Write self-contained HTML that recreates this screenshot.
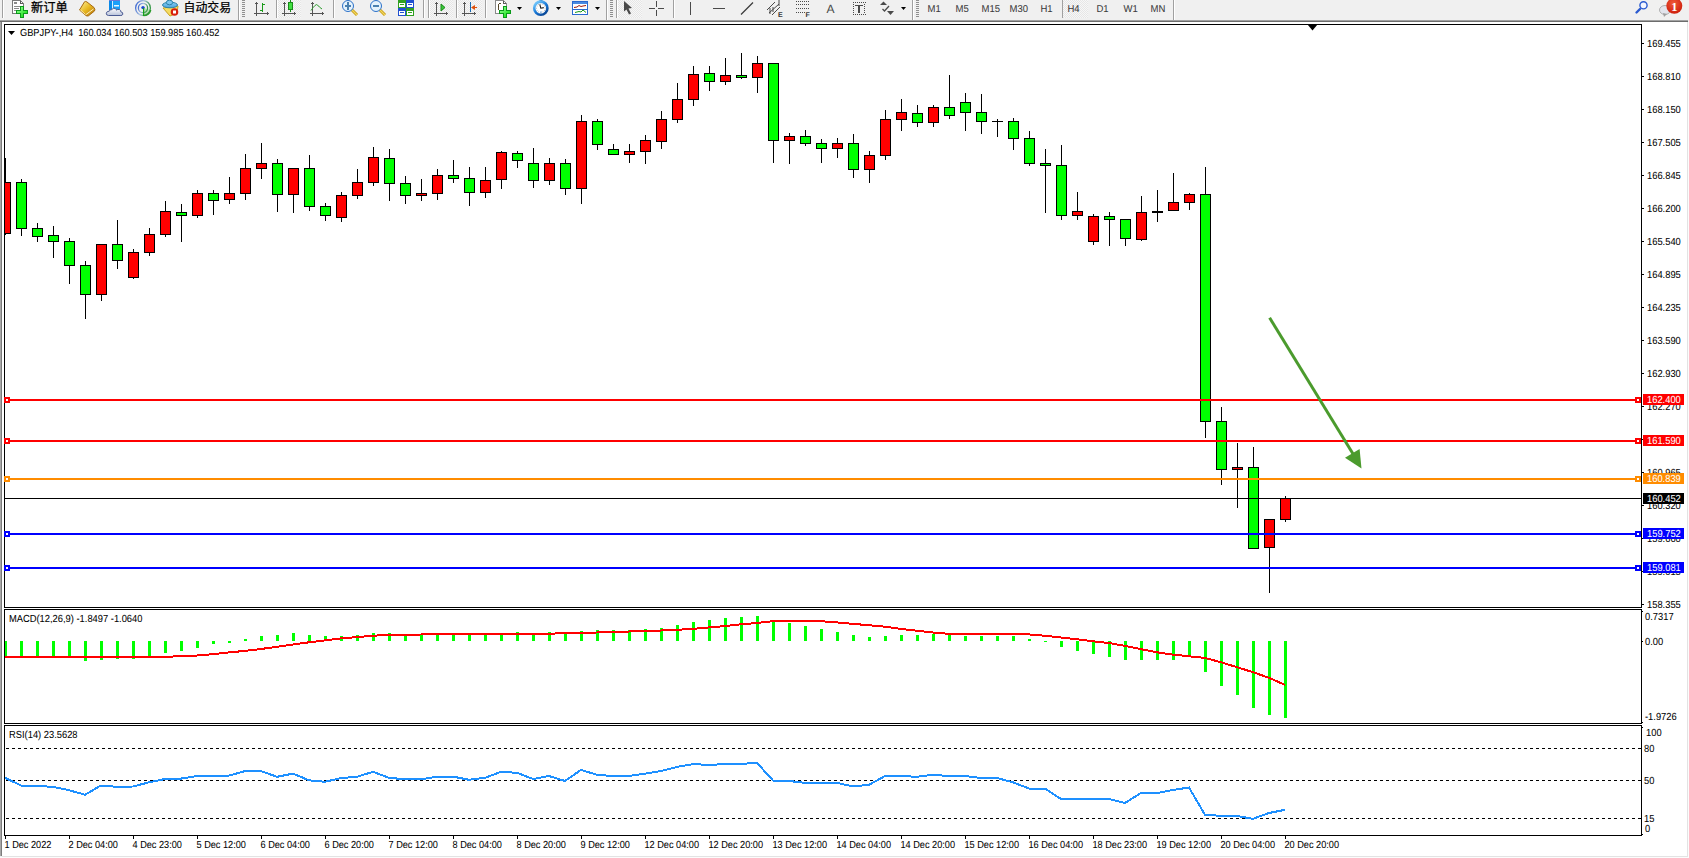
<!DOCTYPE html>
<html><head><meta charset="utf-8"><title>GBPJPY-,H4</title>
<style>
html,body{margin:0;padding:0;background:#f0f0f0;}
body{width:1689px;height:858px;overflow:hidden;}
svg{display:block;}
</style></head><body>
<svg width="1689" height="858" viewBox="0 0 1689 858">
<rect x="0" y="0" width="1689" height="858" fill="#f0f0f0"/>
<rect x="2" y="22" width="1685" height="834" fill="#ffffff"/>
<rect x="0" y="20" width="1" height="836" fill="#a8a8a8"/>
<rect x="1" y="20" width="1" height="836" fill="#7c7c7c"/>
<rect x="1687" y="22" width="1" height="835" fill="#e3e3e3"/>
<rect x="2" y="856" width="1686" height="1" fill="#e3e3e3"/>
<rect x="0" y="20" width="1688" height="1" fill="#a2a2a2"/>
<rect x="0" y="21" width="1688" height="1" fill="#6c6c6c"/>
<rect x="1688" y="22" width="1" height="836" fill="#fcfcfc"/>
<rect x="0" y="857" width="1688" height="1" fill="#fcfcfc"/>
<rect x="4" y="24" width="1638" height="1" fill="#000"/>
<rect x="4" y="607" width="1638" height="1" fill="#000"/>
<rect x="4" y="24" width="1" height="584" fill="#000"/>
<rect x="1641" y="24" width="1" height="584" fill="#000"/>
<rect x="4" y="609" width="1638" height="1" fill="#000"/>
<rect x="4" y="723" width="1638" height="1" fill="#000"/>
<rect x="4" y="609" width="1" height="115" fill="#000"/>
<rect x="1641" y="609" width="1" height="115" fill="#000"/>
<rect x="4" y="725" width="1638" height="1" fill="#000"/>
<rect x="4" y="835" width="1638" height="1" fill="#000"/>
<rect x="4" y="725" width="1" height="111" fill="#000"/>
<rect x="1641" y="725" width="1" height="111" fill="#000"/>
<defs><clipPath id="cm"><rect x="5" y="25" width="1636" height="582"/></clipPath><clipPath id="cd"><rect x="5" y="610" width="1636" height="113"/></clipPath><clipPath id="cr"><rect x="5" y="726" width="1636" height="109"/></clipPath></defs>
<g clip-path="url(#cm)" shape-rendering="crispEdges">
<rect x="5" y="158" width="1" height="77" fill="#000"/>
<rect x="0" y="182" width="11" height="52" fill="#000"/>
<rect x="1" y="183" width="9" height="50" fill="#ff0000"/>
<rect x="21" y="179" width="1" height="57" fill="#000"/>
<rect x="16" y="182" width="11" height="47" fill="#000"/>
<rect x="17" y="183" width="9" height="45" fill="#00ff00"/>
<rect x="37" y="223" width="1" height="19" fill="#000"/>
<rect x="32" y="228" width="11" height="9" fill="#000"/>
<rect x="33" y="229" width="9" height="7" fill="#00ff00"/>
<rect x="53" y="226" width="1" height="32" fill="#000"/>
<rect x="48" y="235" width="11" height="7" fill="#000"/>
<rect x="49" y="236" width="9" height="5" fill="#00ff00"/>
<rect x="69" y="238" width="1" height="46" fill="#000"/>
<rect x="64" y="241" width="11" height="25" fill="#000"/>
<rect x="65" y="242" width="9" height="23" fill="#00ff00"/>
<rect x="85" y="261" width="1" height="58" fill="#000"/>
<rect x="80" y="265" width="11" height="30" fill="#000"/>
<rect x="81" y="266" width="9" height="28" fill="#00ff00"/>
<rect x="101" y="244" width="1" height="57" fill="#000"/>
<rect x="96" y="244" width="11" height="51" fill="#000"/>
<rect x="97" y="245" width="9" height="49" fill="#ff0000"/>
<rect x="117" y="220" width="1" height="49" fill="#000"/>
<rect x="112" y="244" width="11" height="17" fill="#000"/>
<rect x="113" y="245" width="9" height="15" fill="#00ff00"/>
<rect x="133" y="249" width="1" height="30" fill="#000"/>
<rect x="128" y="252" width="11" height="26" fill="#000"/>
<rect x="129" y="253" width="9" height="24" fill="#ff0000"/>
<rect x="149" y="228" width="1" height="28" fill="#000"/>
<rect x="144" y="234" width="11" height="19" fill="#000"/>
<rect x="145" y="235" width="9" height="17" fill="#ff0000"/>
<rect x="165" y="201" width="1" height="36" fill="#000"/>
<rect x="160" y="211" width="11" height="24" fill="#000"/>
<rect x="161" y="212" width="9" height="22" fill="#ff0000"/>
<rect x="181" y="204" width="1" height="38" fill="#000"/>
<rect x="176" y="212" width="11" height="4" fill="#000"/>
<rect x="177" y="213" width="9" height="2" fill="#00ff00"/>
<rect x="197" y="190" width="1" height="28" fill="#000"/>
<rect x="192" y="193" width="11" height="23" fill="#000"/>
<rect x="193" y="194" width="9" height="21" fill="#ff0000"/>
<rect x="213" y="190" width="1" height="25" fill="#000"/>
<rect x="208" y="193" width="11" height="8" fill="#000"/>
<rect x="209" y="194" width="9" height="6" fill="#00ff00"/>
<rect x="229" y="177" width="1" height="27" fill="#000"/>
<rect x="224" y="193" width="11" height="7" fill="#000"/>
<rect x="225" y="194" width="9" height="5" fill="#ff0000"/>
<rect x="245" y="154" width="1" height="46" fill="#000"/>
<rect x="240" y="168" width="11" height="26" fill="#000"/>
<rect x="241" y="169" width="9" height="24" fill="#ff0000"/>
<rect x="261" y="143" width="1" height="36" fill="#000"/>
<rect x="256" y="163" width="11" height="6" fill="#000"/>
<rect x="257" y="164" width="9" height="4" fill="#ff0000"/>
<rect x="277" y="159" width="1" height="53" fill="#000"/>
<rect x="272" y="163" width="11" height="32" fill="#000"/>
<rect x="273" y="164" width="9" height="30" fill="#00ff00"/>
<rect x="293" y="168" width="1" height="45" fill="#000"/>
<rect x="288" y="168" width="11" height="27" fill="#000"/>
<rect x="289" y="169" width="9" height="25" fill="#ff0000"/>
<rect x="309" y="155" width="1" height="56" fill="#000"/>
<rect x="304" y="168" width="11" height="39" fill="#000"/>
<rect x="305" y="169" width="9" height="37" fill="#00ff00"/>
<rect x="325" y="203" width="1" height="18" fill="#000"/>
<rect x="320" y="206" width="11" height="10" fill="#000"/>
<rect x="321" y="207" width="9" height="8" fill="#00ff00"/>
<rect x="341" y="192" width="1" height="30" fill="#000"/>
<rect x="336" y="195" width="11" height="23" fill="#000"/>
<rect x="337" y="196" width="9" height="21" fill="#ff0000"/>
<rect x="357" y="169" width="1" height="30" fill="#000"/>
<rect x="352" y="182" width="11" height="14" fill="#000"/>
<rect x="353" y="183" width="9" height="12" fill="#ff0000"/>
<rect x="373" y="147" width="1" height="39" fill="#000"/>
<rect x="368" y="157" width="11" height="26" fill="#000"/>
<rect x="369" y="158" width="9" height="24" fill="#ff0000"/>
<rect x="389" y="149" width="1" height="52" fill="#000"/>
<rect x="384" y="158" width="11" height="26" fill="#000"/>
<rect x="385" y="159" width="9" height="24" fill="#00ff00"/>
<rect x="405" y="176" width="1" height="28" fill="#000"/>
<rect x="400" y="183" width="11" height="13" fill="#000"/>
<rect x="401" y="184" width="9" height="11" fill="#00ff00"/>
<rect x="421" y="179" width="1" height="22" fill="#000"/>
<rect x="416" y="193" width="11" height="3" fill="#000"/>
<rect x="417" y="194" width="9" height="1" fill="#ff0000"/>
<rect x="437" y="169" width="1" height="31" fill="#000"/>
<rect x="432" y="175" width="11" height="19" fill="#000"/>
<rect x="433" y="176" width="9" height="17" fill="#ff0000"/>
<rect x="453" y="160" width="1" height="23" fill="#000"/>
<rect x="448" y="175" width="11" height="4" fill="#000"/>
<rect x="449" y="176" width="9" height="2" fill="#00ff00"/>
<rect x="469" y="167" width="1" height="39" fill="#000"/>
<rect x="464" y="178" width="11" height="15" fill="#000"/>
<rect x="465" y="179" width="9" height="13" fill="#00ff00"/>
<rect x="485" y="167" width="1" height="31" fill="#000"/>
<rect x="480" y="180" width="11" height="13" fill="#000"/>
<rect x="481" y="181" width="9" height="11" fill="#ff0000"/>
<rect x="501" y="151" width="1" height="38" fill="#000"/>
<rect x="496" y="152" width="11" height="28" fill="#000"/>
<rect x="497" y="153" width="9" height="26" fill="#ff0000"/>
<rect x="517" y="151" width="1" height="17" fill="#000"/>
<rect x="512" y="153" width="11" height="8" fill="#000"/>
<rect x="513" y="154" width="9" height="6" fill="#00ff00"/>
<rect x="533" y="148" width="1" height="40" fill="#000"/>
<rect x="528" y="163" width="11" height="18" fill="#000"/>
<rect x="529" y="164" width="9" height="16" fill="#00ff00"/>
<rect x="549" y="158" width="1" height="27" fill="#000"/>
<rect x="544" y="163" width="11" height="18" fill="#000"/>
<rect x="545" y="164" width="9" height="16" fill="#ff0000"/>
<rect x="565" y="159" width="1" height="36" fill="#000"/>
<rect x="560" y="163" width="11" height="26" fill="#000"/>
<rect x="561" y="164" width="9" height="24" fill="#00ff00"/>
<rect x="581" y="115" width="1" height="89" fill="#000"/>
<rect x="576" y="121" width="11" height="68" fill="#000"/>
<rect x="577" y="122" width="9" height="66" fill="#ff0000"/>
<rect x="597" y="119" width="1" height="31" fill="#000"/>
<rect x="592" y="121" width="11" height="24" fill="#000"/>
<rect x="593" y="122" width="9" height="22" fill="#00ff00"/>
<rect x="613" y="144" width="1" height="11" fill="#000"/>
<rect x="608" y="149" width="11" height="6" fill="#000"/>
<rect x="609" y="150" width="9" height="4" fill="#00ff00"/>
<rect x="629" y="144" width="1" height="19" fill="#000"/>
<rect x="624" y="151" width="11" height="4" fill="#000"/>
<rect x="625" y="152" width="9" height="2" fill="#ff0000"/>
<rect x="645" y="135" width="1" height="29" fill="#000"/>
<rect x="640" y="140" width="11" height="12" fill="#000"/>
<rect x="641" y="141" width="9" height="10" fill="#ff0000"/>
<rect x="661" y="111" width="1" height="38" fill="#000"/>
<rect x="656" y="119" width="11" height="23" fill="#000"/>
<rect x="657" y="120" width="9" height="21" fill="#ff0000"/>
<rect x="677" y="83" width="1" height="40" fill="#000"/>
<rect x="672" y="99" width="11" height="21" fill="#000"/>
<rect x="673" y="100" width="9" height="19" fill="#ff0000"/>
<rect x="693" y="66" width="1" height="40" fill="#000"/>
<rect x="688" y="74" width="11" height="26" fill="#000"/>
<rect x="689" y="75" width="9" height="24" fill="#ff0000"/>
<rect x="709" y="66" width="1" height="25" fill="#000"/>
<rect x="704" y="73" width="11" height="9" fill="#000"/>
<rect x="705" y="74" width="9" height="7" fill="#00ff00"/>
<rect x="725" y="58" width="1" height="27" fill="#000"/>
<rect x="720" y="75" width="11" height="7" fill="#000"/>
<rect x="721" y="76" width="9" height="5" fill="#ff0000"/>
<rect x="741" y="53" width="1" height="26" fill="#000"/>
<rect x="736" y="75" width="11" height="3" fill="#000"/>
<rect x="737" y="76" width="9" height="1" fill="#00ff00"/>
<rect x="757" y="56" width="1" height="37" fill="#000"/>
<rect x="752" y="63" width="11" height="15" fill="#000"/>
<rect x="753" y="64" width="9" height="13" fill="#ff0000"/>
<rect x="773" y="63" width="1" height="100" fill="#000"/>
<rect x="768" y="63" width="11" height="78" fill="#000"/>
<rect x="769" y="64" width="9" height="76" fill="#00ff00"/>
<rect x="789" y="133" width="1" height="31" fill="#000"/>
<rect x="784" y="136" width="11" height="5" fill="#000"/>
<rect x="785" y="137" width="9" height="3" fill="#ff0000"/>
<rect x="805" y="130" width="1" height="16" fill="#000"/>
<rect x="800" y="136" width="11" height="8" fill="#000"/>
<rect x="801" y="137" width="9" height="6" fill="#00ff00"/>
<rect x="821" y="139" width="1" height="24" fill="#000"/>
<rect x="816" y="143" width="11" height="6" fill="#000"/>
<rect x="817" y="144" width="9" height="4" fill="#00ff00"/>
<rect x="837" y="138" width="1" height="20" fill="#000"/>
<rect x="832" y="143" width="11" height="6" fill="#000"/>
<rect x="833" y="144" width="9" height="4" fill="#ff0000"/>
<rect x="853" y="134" width="1" height="44" fill="#000"/>
<rect x="848" y="143" width="11" height="27" fill="#000"/>
<rect x="849" y="144" width="9" height="25" fill="#00ff00"/>
<rect x="869" y="151" width="1" height="32" fill="#000"/>
<rect x="864" y="155" width="11" height="15" fill="#000"/>
<rect x="865" y="156" width="9" height="13" fill="#ff0000"/>
<rect x="885" y="110" width="1" height="50" fill="#000"/>
<rect x="880" y="119" width="11" height="37" fill="#000"/>
<rect x="881" y="120" width="9" height="35" fill="#ff0000"/>
<rect x="901" y="99" width="1" height="32" fill="#000"/>
<rect x="896" y="112" width="11" height="8" fill="#000"/>
<rect x="897" y="113" width="9" height="6" fill="#ff0000"/>
<rect x="917" y="105" width="1" height="22" fill="#000"/>
<rect x="912" y="113" width="11" height="10" fill="#000"/>
<rect x="913" y="114" width="9" height="8" fill="#00ff00"/>
<rect x="933" y="105" width="1" height="22" fill="#000"/>
<rect x="928" y="107" width="11" height="16" fill="#000"/>
<rect x="929" y="108" width="9" height="14" fill="#ff0000"/>
<rect x="949" y="75" width="1" height="44" fill="#000"/>
<rect x="944" y="107" width="11" height="9" fill="#000"/>
<rect x="945" y="108" width="9" height="7" fill="#00ff00"/>
<rect x="965" y="93" width="1" height="38" fill="#000"/>
<rect x="960" y="102" width="11" height="11" fill="#000"/>
<rect x="961" y="103" width="9" height="9" fill="#00ff00"/>
<rect x="981" y="94" width="1" height="40" fill="#000"/>
<rect x="976" y="112" width="11" height="10" fill="#000"/>
<rect x="977" y="113" width="9" height="8" fill="#00ff00"/>
<rect x="997" y="119" width="1" height="18" fill="#000"/>
<rect x="992" y="121" width="11" height="1" fill="#000"/>
<rect x="1013" y="118" width="1" height="32" fill="#000"/>
<rect x="1008" y="121" width="11" height="18" fill="#000"/>
<rect x="1009" y="122" width="9" height="16" fill="#00ff00"/>
<rect x="1029" y="131" width="1" height="35" fill="#000"/>
<rect x="1024" y="138" width="11" height="26" fill="#000"/>
<rect x="1025" y="139" width="9" height="24" fill="#00ff00"/>
<rect x="1045" y="149" width="1" height="64" fill="#000"/>
<rect x="1040" y="163" width="11" height="3" fill="#000"/>
<rect x="1041" y="164" width="9" height="1" fill="#00ff00"/>
<rect x="1061" y="145" width="1" height="75" fill="#000"/>
<rect x="1056" y="165" width="11" height="51" fill="#000"/>
<rect x="1057" y="166" width="9" height="49" fill="#00ff00"/>
<rect x="1077" y="192" width="1" height="28" fill="#000"/>
<rect x="1072" y="211" width="11" height="5" fill="#000"/>
<rect x="1073" y="212" width="9" height="3" fill="#ff0000"/>
<rect x="1093" y="214" width="1" height="31" fill="#000"/>
<rect x="1088" y="216" width="11" height="26" fill="#000"/>
<rect x="1089" y="217" width="9" height="24" fill="#ff0000"/>
<rect x="1109" y="212" width="1" height="34" fill="#000"/>
<rect x="1104" y="216" width="11" height="4" fill="#000"/>
<rect x="1105" y="217" width="9" height="2" fill="#00ff00"/>
<rect x="1125" y="219" width="1" height="27" fill="#000"/>
<rect x="1120" y="219" width="11" height="20" fill="#000"/>
<rect x="1121" y="220" width="9" height="18" fill="#00ff00"/>
<rect x="1141" y="196" width="1" height="45" fill="#000"/>
<rect x="1136" y="212" width="11" height="28" fill="#000"/>
<rect x="1137" y="213" width="9" height="26" fill="#ff0000"/>
<rect x="1157" y="190" width="1" height="32" fill="#000"/>
<rect x="1152" y="211" width="11" height="2" fill="#000"/>
<rect x="1173" y="173" width="1" height="38" fill="#000"/>
<rect x="1168" y="202" width="11" height="9" fill="#000"/>
<rect x="1169" y="203" width="9" height="7" fill="#ff0000"/>
<rect x="1189" y="193" width="1" height="17" fill="#000"/>
<rect x="1184" y="194" width="11" height="9" fill="#000"/>
<rect x="1185" y="195" width="9" height="7" fill="#ff0000"/>
<rect x="1205" y="167" width="1" height="271" fill="#000"/>
<rect x="1200" y="194" width="11" height="228" fill="#000"/>
<rect x="1201" y="195" width="9" height="226" fill="#00ff00"/>
<rect x="1221" y="407" width="1" height="78" fill="#000"/>
<rect x="1216" y="421" width="11" height="49" fill="#000"/>
<rect x="1217" y="422" width="9" height="47" fill="#00ff00"/>
<rect x="1237" y="443" width="1" height="65" fill="#000"/>
<rect x="1232" y="467" width="11" height="3" fill="#000"/>
<rect x="1233" y="468" width="9" height="1" fill="#ff0000"/>
<rect x="1253" y="447" width="1" height="102" fill="#000"/>
<rect x="1248" y="467" width="11" height="82" fill="#000"/>
<rect x="1249" y="468" width="9" height="80" fill="#00ff00"/>
<rect x="1269" y="519" width="1" height="74" fill="#000"/>
<rect x="1264" y="519" width="11" height="29" fill="#000"/>
<rect x="1265" y="520" width="9" height="27" fill="#ff0000"/>
<rect x="1285" y="496" width="1" height="26" fill="#000"/>
<rect x="1280" y="498" width="11" height="22" fill="#000"/>
<rect x="1281" y="499" width="9" height="20" fill="#ff0000"/>
</g>
<g shape-rendering="crispEdges">
<rect x="5" y="399" width="1636" height="2" fill="#ff0000"/>
<rect x="4" y="397" width="6" height="6" fill="#ff0000"/>
<rect x="6" y="399" width="2" height="2" fill="#ffffff"/>
<rect x="1635" y="397" width="6" height="6" fill="#ff0000"/>
<rect x="1637" y="399" width="2" height="2" fill="#ffffff"/>
<rect x="5" y="440" width="1636" height="2" fill="#ff0000"/>
<rect x="4" y="438" width="6" height="6" fill="#ff0000"/>
<rect x="6" y="440" width="2" height="2" fill="#ffffff"/>
<rect x="1635" y="438" width="6" height="6" fill="#ff0000"/>
<rect x="1637" y="440" width="2" height="2" fill="#ffffff"/>
<rect x="5" y="478" width="1636" height="2" fill="#ff8c00"/>
<rect x="4" y="476" width="6" height="6" fill="#ff8c00"/>
<rect x="6" y="478" width="2" height="2" fill="#ffffff"/>
<rect x="1635" y="476" width="6" height="6" fill="#ff8c00"/>
<rect x="1637" y="478" width="2" height="2" fill="#ffffff"/>
<rect x="5" y="533" width="1636" height="2" fill="#0000ff"/>
<rect x="4" y="531" width="6" height="6" fill="#0000ff"/>
<rect x="6" y="533" width="2" height="2" fill="#ffffff"/>
<rect x="1635" y="531" width="6" height="6" fill="#0000ff"/>
<rect x="1637" y="533" width="2" height="2" fill="#ffffff"/>
<rect x="5" y="567" width="1636" height="2" fill="#0000ff"/>
<rect x="4" y="565" width="6" height="6" fill="#0000ff"/>
<rect x="6" y="567" width="2" height="2" fill="#ffffff"/>
<rect x="1635" y="565" width="6" height="6" fill="#0000ff"/>
<rect x="1637" y="567" width="2" height="2" fill="#ffffff"/>
<rect x="5" y="498" width="1636" height="1" fill="#000"/>
</g>
<polygon points="1307.5,24.5 1317.5,24.5 1312.5,30.5" fill="#000"/>
<g fill="#4b9b2d" stroke="none"><line x1="1269.6" y1="317.7" x2="1354" y2="455.5" stroke="#4b9b2d" stroke-width="3"/><polygon points="1361.5,468.5 1345,457.7 1359.6,449"/></g>
<polygon points="8,31 15,31 11.5,35" fill="#000"/>
<text transform="translate(20,36) scale(0.907,1)" font-family="'Liberation Sans', Arial, sans-serif" font-size="10.2" fill="#000" font-weight="normal" text-anchor="start" stroke="#000" stroke-width="0.05" text-rendering="geometricPrecision">GBPJPY-,H4&#160;&#160;160.034 160.503 159.985 160.452</text>
<g shape-rendering="crispEdges">
<rect x="1642" y="43" width="2" height="1" fill="#000"/>
<rect x="1642" y="76" width="2" height="1" fill="#000"/>
<rect x="1642" y="109" width="2" height="1" fill="#000"/>
<rect x="1642" y="142" width="2" height="1" fill="#000"/>
<rect x="1642" y="175" width="2" height="1" fill="#000"/>
<rect x="1642" y="208" width="2" height="1" fill="#000"/>
<rect x="1642" y="241" width="2" height="1" fill="#000"/>
<rect x="1642" y="274" width="2" height="1" fill="#000"/>
<rect x="1642" y="307" width="2" height="1" fill="#000"/>
<rect x="1642" y="340" width="2" height="1" fill="#000"/>
<rect x="1642" y="373" width="2" height="1" fill="#000"/>
<rect x="1642" y="406" width="2" height="1" fill="#000"/>
<rect x="1642" y="439" width="2" height="1" fill="#000"/>
<rect x="1642" y="472" width="2" height="1" fill="#000"/>
<rect x="1642" y="505" width="2" height="1" fill="#000"/>
<rect x="1642" y="538" width="2" height="1" fill="#000"/>
<rect x="1642" y="571" width="2" height="1" fill="#000"/>
<rect x="1642" y="604" width="2" height="1" fill="#000"/>
</g>
<text transform="translate(1647,47) scale(0.917,1)" font-family="'Liberation Sans', Arial, sans-serif" font-size="10.2" fill="#000" font-weight="normal" text-anchor="start" stroke="#000" stroke-width="0.05" text-rendering="geometricPrecision">169.455</text>
<text transform="translate(1647,80) scale(0.917,1)" font-family="'Liberation Sans', Arial, sans-serif" font-size="10.2" fill="#000" font-weight="normal" text-anchor="start" stroke="#000" stroke-width="0.05" text-rendering="geometricPrecision">168.810</text>
<text transform="translate(1647,113) scale(0.917,1)" font-family="'Liberation Sans', Arial, sans-serif" font-size="10.2" fill="#000" font-weight="normal" text-anchor="start" stroke="#000" stroke-width="0.05" text-rendering="geometricPrecision">168.150</text>
<text transform="translate(1647,146) scale(0.917,1)" font-family="'Liberation Sans', Arial, sans-serif" font-size="10.2" fill="#000" font-weight="normal" text-anchor="start" stroke="#000" stroke-width="0.05" text-rendering="geometricPrecision">167.505</text>
<text transform="translate(1647,179) scale(0.917,1)" font-family="'Liberation Sans', Arial, sans-serif" font-size="10.2" fill="#000" font-weight="normal" text-anchor="start" stroke="#000" stroke-width="0.05" text-rendering="geometricPrecision">166.845</text>
<text transform="translate(1647,212) scale(0.917,1)" font-family="'Liberation Sans', Arial, sans-serif" font-size="10.2" fill="#000" font-weight="normal" text-anchor="start" stroke="#000" stroke-width="0.05" text-rendering="geometricPrecision">166.200</text>
<text transform="translate(1647,245) scale(0.917,1)" font-family="'Liberation Sans', Arial, sans-serif" font-size="10.2" fill="#000" font-weight="normal" text-anchor="start" stroke="#000" stroke-width="0.05" text-rendering="geometricPrecision">165.540</text>
<text transform="translate(1647,278) scale(0.917,1)" font-family="'Liberation Sans', Arial, sans-serif" font-size="10.2" fill="#000" font-weight="normal" text-anchor="start" stroke="#000" stroke-width="0.05" text-rendering="geometricPrecision">164.895</text>
<text transform="translate(1647,311) scale(0.917,1)" font-family="'Liberation Sans', Arial, sans-serif" font-size="10.2" fill="#000" font-weight="normal" text-anchor="start" stroke="#000" stroke-width="0.05" text-rendering="geometricPrecision">164.235</text>
<text transform="translate(1647,344) scale(0.917,1)" font-family="'Liberation Sans', Arial, sans-serif" font-size="10.2" fill="#000" font-weight="normal" text-anchor="start" stroke="#000" stroke-width="0.05" text-rendering="geometricPrecision">163.590</text>
<text transform="translate(1647,377) scale(0.917,1)" font-family="'Liberation Sans', Arial, sans-serif" font-size="10.2" fill="#000" font-weight="normal" text-anchor="start" stroke="#000" stroke-width="0.05" text-rendering="geometricPrecision">162.930</text>
<text transform="translate(1647,410) scale(0.917,1)" font-family="'Liberation Sans', Arial, sans-serif" font-size="10.2" fill="#000" font-weight="normal" text-anchor="start" stroke="#000" stroke-width="0.05" text-rendering="geometricPrecision">162.270</text>
<text transform="translate(1647,443) scale(0.917,1)" font-family="'Liberation Sans', Arial, sans-serif" font-size="10.2" fill="#000" font-weight="normal" text-anchor="start" stroke="#000" stroke-width="0.05" text-rendering="geometricPrecision">161.625</text>
<text transform="translate(1647,476) scale(0.917,1)" font-family="'Liberation Sans', Arial, sans-serif" font-size="10.2" fill="#000" font-weight="normal" text-anchor="start" stroke="#000" stroke-width="0.05" text-rendering="geometricPrecision">160.965</text>
<text transform="translate(1647,509) scale(0.917,1)" font-family="'Liberation Sans', Arial, sans-serif" font-size="10.2" fill="#000" font-weight="normal" text-anchor="start" stroke="#000" stroke-width="0.05" text-rendering="geometricPrecision">160.320</text>
<text transform="translate(1647,542) scale(0.917,1)" font-family="'Liberation Sans', Arial, sans-serif" font-size="10.2" fill="#000" font-weight="normal" text-anchor="start" stroke="#000" stroke-width="0.05" text-rendering="geometricPrecision">159.660</text>
<text transform="translate(1647,575) scale(0.917,1)" font-family="'Liberation Sans', Arial, sans-serif" font-size="10.2" fill="#000" font-weight="normal" text-anchor="start" stroke="#000" stroke-width="0.05" text-rendering="geometricPrecision">159.015</text>
<text transform="translate(1647,608) scale(0.917,1)" font-family="'Liberation Sans', Arial, sans-serif" font-size="10.2" fill="#000" font-weight="normal" text-anchor="start" stroke="#000" stroke-width="0.05" text-rendering="geometricPrecision">158.355</text>
<rect x="1643" y="394" width="41" height="11" fill="#ff0000" shape-rendering="crispEdges"/>
<text transform="translate(1647,403) scale(0.917,1)" font-family="'Liberation Sans', Arial, sans-serif" font-size="10.2" fill="#ffffff" font-weight="normal" text-anchor="start" stroke="#ffffff" stroke-width="0.05" text-rendering="geometricPrecision">162.400</text>
<rect x="1643" y="435" width="41" height="11" fill="#ff0000" shape-rendering="crispEdges"/>
<text transform="translate(1647,444) scale(0.917,1)" font-family="'Liberation Sans', Arial, sans-serif" font-size="10.2" fill="#ffffff" font-weight="normal" text-anchor="start" stroke="#ffffff" stroke-width="0.05" text-rendering="geometricPrecision">161.590</text>
<rect x="1643" y="473" width="41" height="11" fill="#ff8c00" shape-rendering="crispEdges"/>
<text transform="translate(1647,482) scale(0.917,1)" font-family="'Liberation Sans', Arial, sans-serif" font-size="10.2" fill="#ffffff" font-weight="normal" text-anchor="start" stroke="#ffffff" stroke-width="0.05" text-rendering="geometricPrecision">160.839</text>
<rect x="1643" y="493" width="41" height="11" fill="#000000" shape-rendering="crispEdges"/>
<text transform="translate(1647,502) scale(0.917,1)" font-family="'Liberation Sans', Arial, sans-serif" font-size="10.2" fill="#ffffff" font-weight="normal" text-anchor="start" stroke="#ffffff" stroke-width="0.05" text-rendering="geometricPrecision">160.452</text>
<rect x="1643" y="528" width="41" height="11" fill="#0000ff" shape-rendering="crispEdges"/>
<text transform="translate(1647,537) scale(0.917,1)" font-family="'Liberation Sans', Arial, sans-serif" font-size="10.2" fill="#ffffff" font-weight="normal" text-anchor="start" stroke="#ffffff" stroke-width="0.05" text-rendering="geometricPrecision">159.752</text>
<rect x="1643" y="562" width="41" height="11" fill="#0000ff" shape-rendering="crispEdges"/>
<text transform="translate(1647,571) scale(0.917,1)" font-family="'Liberation Sans', Arial, sans-serif" font-size="10.2" fill="#ffffff" font-weight="normal" text-anchor="start" stroke="#ffffff" stroke-width="0.05" text-rendering="geometricPrecision">159.081</text>
<g clip-path="url(#cd)" shape-rendering="crispEdges">
<rect x="4" y="641" width="3" height="16" fill="#00ff00"/>
<rect x="20" y="641" width="3" height="15" fill="#00ff00"/>
<rect x="36" y="641" width="3" height="15" fill="#00ff00"/>
<rect x="52" y="641" width="3" height="15" fill="#00ff00"/>
<rect x="68" y="641" width="3" height="15" fill="#00ff00"/>
<rect x="84" y="641" width="3" height="20" fill="#00ff00"/>
<rect x="100" y="641" width="3" height="19" fill="#00ff00"/>
<rect x="116" y="641" width="3" height="18" fill="#00ff00"/>
<rect x="132" y="641" width="3" height="18" fill="#00ff00"/>
<rect x="148" y="641" width="3" height="15" fill="#00ff00"/>
<rect x="164" y="641" width="3" height="12" fill="#00ff00"/>
<rect x="180" y="641" width="3" height="10" fill="#00ff00"/>
<rect x="196" y="641" width="3" height="7" fill="#00ff00"/>
<rect x="212" y="641" width="3" height="3" fill="#00ff00"/>
<rect x="228" y="641" width="3" height="2" fill="#00ff00"/>
<rect x="244" y="639" width="3" height="2" fill="#00ff00"/>
<rect x="260" y="636" width="3" height="5" fill="#00ff00"/>
<rect x="276" y="635" width="3" height="6" fill="#00ff00"/>
<rect x="292" y="633" width="3" height="8" fill="#00ff00"/>
<rect x="308" y="635" width="3" height="6" fill="#00ff00"/>
<rect x="324" y="636" width="3" height="5" fill="#00ff00"/>
<rect x="340" y="636" width="3" height="5" fill="#00ff00"/>
<rect x="356" y="635" width="3" height="6" fill="#00ff00"/>
<rect x="372" y="633" width="3" height="8" fill="#00ff00"/>
<rect x="388" y="633" width="3" height="8" fill="#00ff00"/>
<rect x="404" y="635" width="3" height="6" fill="#00ff00"/>
<rect x="420" y="635" width="3" height="6" fill="#00ff00"/>
<rect x="436" y="635" width="3" height="6" fill="#00ff00"/>
<rect x="452" y="634" width="3" height="7" fill="#00ff00"/>
<rect x="468" y="634" width="3" height="7" fill="#00ff00"/>
<rect x="484" y="634" width="3" height="7" fill="#00ff00"/>
<rect x="500" y="634" width="3" height="7" fill="#00ff00"/>
<rect x="516" y="632" width="3" height="9" fill="#00ff00"/>
<rect x="532" y="634" width="3" height="7" fill="#00ff00"/>
<rect x="548" y="632" width="3" height="9" fill="#00ff00"/>
<rect x="564" y="633" width="3" height="8" fill="#00ff00"/>
<rect x="580" y="631" width="3" height="10" fill="#00ff00"/>
<rect x="596" y="630" width="3" height="11" fill="#00ff00"/>
<rect x="612" y="630" width="3" height="11" fill="#00ff00"/>
<rect x="628" y="630" width="3" height="11" fill="#00ff00"/>
<rect x="644" y="629" width="3" height="12" fill="#00ff00"/>
<rect x="660" y="628" width="3" height="13" fill="#00ff00"/>
<rect x="676" y="625" width="3" height="16" fill="#00ff00"/>
<rect x="692" y="622" width="3" height="19" fill="#00ff00"/>
<rect x="708" y="620" width="3" height="21" fill="#00ff00"/>
<rect x="724" y="618" width="3" height="23" fill="#00ff00"/>
<rect x="740" y="617" width="3" height="24" fill="#00ff00"/>
<rect x="756" y="616" width="3" height="25" fill="#00ff00"/>
<rect x="772" y="620" width="3" height="21" fill="#00ff00"/>
<rect x="788" y="623" width="3" height="18" fill="#00ff00"/>
<rect x="804" y="626" width="3" height="15" fill="#00ff00"/>
<rect x="820" y="629" width="3" height="12" fill="#00ff00"/>
<rect x="836" y="632" width="3" height="9" fill="#00ff00"/>
<rect x="852" y="635" width="3" height="6" fill="#00ff00"/>
<rect x="868" y="637" width="3" height="4" fill="#00ff00"/>
<rect x="884" y="636" width="3" height="5" fill="#00ff00"/>
<rect x="900" y="635" width="3" height="6" fill="#00ff00"/>
<rect x="916" y="635" width="3" height="6" fill="#00ff00"/>
<rect x="932" y="634" width="3" height="7" fill="#00ff00"/>
<rect x="948" y="635" width="3" height="6" fill="#00ff00"/>
<rect x="964" y="636" width="3" height="5" fill="#00ff00"/>
<rect x="980" y="636" width="3" height="5" fill="#00ff00"/>
<rect x="996" y="636" width="3" height="5" fill="#00ff00"/>
<rect x="1012" y="636" width="3" height="5" fill="#00ff00"/>
<rect x="1028" y="639" width="3" height="2" fill="#00ff00"/>
<rect x="1044" y="641" width="3" height="1" fill="#00ff00"/>
<rect x="1060" y="641" width="3" height="6" fill="#00ff00"/>
<rect x="1076" y="641" width="3" height="10" fill="#00ff00"/>
<rect x="1092" y="641" width="3" height="13" fill="#00ff00"/>
<rect x="1108" y="641" width="3" height="16" fill="#00ff00"/>
<rect x="1124" y="641" width="3" height="19" fill="#00ff00"/>
<rect x="1140" y="641" width="3" height="19" fill="#00ff00"/>
<rect x="1156" y="641" width="3" height="19" fill="#00ff00"/>
<rect x="1172" y="641" width="3" height="19" fill="#00ff00"/>
<rect x="1188" y="641" width="3" height="16" fill="#00ff00"/>
<rect x="1204" y="641" width="3" height="31" fill="#00ff00"/>
<rect x="1220" y="641" width="3" height="45" fill="#00ff00"/>
<rect x="1236" y="641" width="3" height="54" fill="#00ff00"/>
<rect x="1252" y="641" width="3" height="67" fill="#00ff00"/>
<rect x="1268" y="641" width="3" height="74" fill="#00ff00"/>
<rect x="1284" y="641" width="3" height="77" fill="#00ff00"/>
<polyline fill="none" stroke="#ff0000" stroke-width="2" points="5,657.5 21,657 165,657 181,656 197,655.5 213,654.2 229,652.4 245,650.9 261,649 277,646.8 293,644.5 309,642.3 325,640.4 341,638.4 357,637.1 373,635.8 389,634.7 405,634.7 421,634.5 437,634.4 453,634 469,633.8 485,633.6 501,633.8 549,633.8 565,633 581,632.9 597,632.5 613,632 629,631.5 645,631 661,630.5 677,629.8 693,628.9 709,627.4 725,626.1 741,624.3 757,623 773,621.2 789,621 805,621 821,621.2 837,622.4 853,623.9 869,625.2 885,626.7 901,628.9 917,630.7 933,632.5 949,633.8 965,634.4 1029,634.4 1045,635.8 1061,637.5 1077,639.3 1093,641.3 1109,643 1125,645.9 1141,649.2 1157,652.3 1173,654.6 1189,656.3 1205,657.9 1221,662.3 1237,667.2 1253,672.2 1269,677.8 1285,684.9"/>
</g>
<text transform="translate(9,622) scale(0.917,1)" font-family="'Liberation Sans', Arial, sans-serif" font-size="10.2" fill="#000" font-weight="normal" text-anchor="start" stroke="#000" stroke-width="0.05" text-rendering="geometricPrecision">MACD(12,26,9) -1.8497 -1.0640</text>
<g shape-rendering="crispEdges">
<rect x="1642" y="611" width="1" height="1" fill="#000"/>
<rect x="1642" y="641" width="1" height="1" fill="#000"/>
<rect x="1642" y="722" width="1" height="1" fill="#000"/>
</g>
<text transform="translate(1645,620) scale(0.917,1)" font-family="'Liberation Sans', Arial, sans-serif" font-size="10.2" fill="#000" font-weight="normal" text-anchor="start" stroke="#000" stroke-width="0.05" text-rendering="geometricPrecision">0.7317</text>
<text transform="translate(1645,645) scale(0.917,1)" font-family="'Liberation Sans', Arial, sans-serif" font-size="10.2" fill="#000" font-weight="normal" text-anchor="start" stroke="#000" stroke-width="0.05" text-rendering="geometricPrecision">0.00</text>
<text transform="translate(1645,720) scale(0.917,1)" font-family="'Liberation Sans', Arial, sans-serif" font-size="10.2" fill="#000" font-weight="normal" text-anchor="start" stroke="#000" stroke-width="0.05" text-rendering="geometricPrecision">-1.9726</text>
<g shape-rendering="crispEdges">
<line x1="6" y1="748.5" x2="1641" y2="748.5" stroke="#000" stroke-width="1" stroke-dasharray="3,3"/>
<line x1="6" y1="780.5" x2="1641" y2="780.5" stroke="#000" stroke-width="1" stroke-dasharray="3,3"/>
<line x1="6" y1="818.5" x2="1641" y2="818.5" stroke="#000" stroke-width="1" stroke-dasharray="3,3"/>
<rect x="1642" y="727" width="1" height="1" fill="#000"/>
<rect x="1642" y="834" width="1" height="1" fill="#000"/>
</g>
<g clip-path="url(#cr)" shape-rendering="crispEdges">
<polyline fill="none" stroke="#1e90ff" stroke-width="2" points="5,777.8 21,785.5 37,786 53,786.8 69,790.2 85,794.7 101,785.5 117,786.8 133,786.5 149,782.3 165,779 181,778.6 197,776 213,776 229,775.6 245,771.1 261,771.1 277,776.8 293,773.6 309,780.3 325,781.8 341,778 357,776.8 373,771.8 389,777.8 405,779.3 421,779.3 437,776.6 453,776.6 469,779.8 485,777.8 501,771.8 517,772.8 533,779 549,776 565,781 581,769.9 597,774.8 613,776 629,776 645,773.6 661,771.1 677,766.9 693,764.1 709,764.9 725,764.1 741,763.9 757,762.9 773,780.5 789,781 805,782.8 821,782.8 837,782.8 853,786.5 869,784.8 885,776 901,776 917,776.8 933,774.8 949,776 965,776 981,778 997,778 1013,782.3 1029,788.5 1045,788.5 1061,799 1077,799 1093,799 1109,799 1125,803 1141,793 1157,793 1173,790 1189,787.5 1205,814.8 1221,815.8 1237,816 1253,818.8 1269,813 1285,809.8"/>
</g>
<text transform="translate(9,738) scale(0.917,1)" font-family="'Liberation Sans', Arial, sans-serif" font-size="10.2" fill="#000" font-weight="normal" text-anchor="start" stroke="#000" stroke-width="0.05" text-rendering="geometricPrecision">RSI(14) 23.5628</text>
<text transform="translate(1646,736) scale(0.917,1)" font-family="'Liberation Sans', Arial, sans-serif" font-size="10.2" fill="#000" font-weight="normal" text-anchor="start" stroke="#000" stroke-width="0.05" text-rendering="geometricPrecision">100</text>
<text transform="translate(1644,752) scale(0.917,1)" font-family="'Liberation Sans', Arial, sans-serif" font-size="10.2" fill="#000" font-weight="normal" text-anchor="start" stroke="#000" stroke-width="0.05" text-rendering="geometricPrecision">80</text>
<text transform="translate(1644,784) scale(0.917,1)" font-family="'Liberation Sans', Arial, sans-serif" font-size="10.2" fill="#000" font-weight="normal" text-anchor="start" stroke="#000" stroke-width="0.05" text-rendering="geometricPrecision">50</text>
<text transform="translate(1644,822) scale(0.917,1)" font-family="'Liberation Sans', Arial, sans-serif" font-size="10.2" fill="#000" font-weight="normal" text-anchor="start" stroke="#000" stroke-width="0.05" text-rendering="geometricPrecision">15</text>
<text transform="translate(1645,832) scale(0.917,1)" font-family="'Liberation Sans', Arial, sans-serif" font-size="10.2" fill="#000" font-weight="normal" text-anchor="start" stroke="#000" stroke-width="0.05" text-rendering="geometricPrecision">0</text>
<g shape-rendering="crispEdges">
<rect x="5" y="836" width="1" height="3" fill="#000"/>
<rect x="69" y="836" width="1" height="3" fill="#000"/>
<rect x="133" y="836" width="1" height="3" fill="#000"/>
<rect x="197" y="836" width="1" height="3" fill="#000"/>
<rect x="261" y="836" width="1" height="3" fill="#000"/>
<rect x="325" y="836" width="1" height="3" fill="#000"/>
<rect x="389" y="836" width="1" height="3" fill="#000"/>
<rect x="453" y="836" width="1" height="3" fill="#000"/>
<rect x="517" y="836" width="1" height="3" fill="#000"/>
<rect x="581" y="836" width="1" height="3" fill="#000"/>
<rect x="645" y="836" width="1" height="3" fill="#000"/>
<rect x="709" y="836" width="1" height="3" fill="#000"/>
<rect x="773" y="836" width="1" height="3" fill="#000"/>
<rect x="837" y="836" width="1" height="3" fill="#000"/>
<rect x="901" y="836" width="1" height="3" fill="#000"/>
<rect x="965" y="836" width="1" height="3" fill="#000"/>
<rect x="1029" y="836" width="1" height="3" fill="#000"/>
<rect x="1093" y="836" width="1" height="3" fill="#000"/>
<rect x="1157" y="836" width="1" height="3" fill="#000"/>
<rect x="1221" y="836" width="1" height="3" fill="#000"/>
<rect x="1285" y="836" width="1" height="3" fill="#000"/>
</g>
<text transform="translate(4.5,848) scale(0.9,1)" font-family="'Liberation Sans', Arial, sans-serif" font-size="10.2" fill="#000" font-weight="normal" text-anchor="start" stroke="#000" stroke-width="0.05" text-rendering="geometricPrecision">1 Dec 2022</text>
<text transform="translate(68.5,848) scale(0.9,1)" font-family="'Liberation Sans', Arial, sans-serif" font-size="10.2" fill="#000" font-weight="normal" text-anchor="start" stroke="#000" stroke-width="0.05" text-rendering="geometricPrecision">2 Dec 04:00</text>
<text transform="translate(132.5,848) scale(0.9,1)" font-family="'Liberation Sans', Arial, sans-serif" font-size="10.2" fill="#000" font-weight="normal" text-anchor="start" stroke="#000" stroke-width="0.05" text-rendering="geometricPrecision">4 Dec 23:00</text>
<text transform="translate(196.5,848) scale(0.9,1)" font-family="'Liberation Sans', Arial, sans-serif" font-size="10.2" fill="#000" font-weight="normal" text-anchor="start" stroke="#000" stroke-width="0.05" text-rendering="geometricPrecision">5 Dec 12:00</text>
<text transform="translate(260.5,848) scale(0.9,1)" font-family="'Liberation Sans', Arial, sans-serif" font-size="10.2" fill="#000" font-weight="normal" text-anchor="start" stroke="#000" stroke-width="0.05" text-rendering="geometricPrecision">6 Dec 04:00</text>
<text transform="translate(324.5,848) scale(0.9,1)" font-family="'Liberation Sans', Arial, sans-serif" font-size="10.2" fill="#000" font-weight="normal" text-anchor="start" stroke="#000" stroke-width="0.05" text-rendering="geometricPrecision">6 Dec 20:00</text>
<text transform="translate(388.5,848) scale(0.9,1)" font-family="'Liberation Sans', Arial, sans-serif" font-size="10.2" fill="#000" font-weight="normal" text-anchor="start" stroke="#000" stroke-width="0.05" text-rendering="geometricPrecision">7 Dec 12:00</text>
<text transform="translate(452.5,848) scale(0.9,1)" font-family="'Liberation Sans', Arial, sans-serif" font-size="10.2" fill="#000" font-weight="normal" text-anchor="start" stroke="#000" stroke-width="0.05" text-rendering="geometricPrecision">8 Dec 04:00</text>
<text transform="translate(516.5,848) scale(0.9,1)" font-family="'Liberation Sans', Arial, sans-serif" font-size="10.2" fill="#000" font-weight="normal" text-anchor="start" stroke="#000" stroke-width="0.05" text-rendering="geometricPrecision">8 Dec 20:00</text>
<text transform="translate(580.5,848) scale(0.9,1)" font-family="'Liberation Sans', Arial, sans-serif" font-size="10.2" fill="#000" font-weight="normal" text-anchor="start" stroke="#000" stroke-width="0.05" text-rendering="geometricPrecision">9 Dec 12:00</text>
<text transform="translate(644.5,848) scale(0.9,1)" font-family="'Liberation Sans', Arial, sans-serif" font-size="10.2" fill="#000" font-weight="normal" text-anchor="start" stroke="#000" stroke-width="0.05" text-rendering="geometricPrecision">12 Dec 04:00</text>
<text transform="translate(708.5,848) scale(0.9,1)" font-family="'Liberation Sans', Arial, sans-serif" font-size="10.2" fill="#000" font-weight="normal" text-anchor="start" stroke="#000" stroke-width="0.05" text-rendering="geometricPrecision">12 Dec 20:00</text>
<text transform="translate(772.5,848) scale(0.9,1)" font-family="'Liberation Sans', Arial, sans-serif" font-size="10.2" fill="#000" font-weight="normal" text-anchor="start" stroke="#000" stroke-width="0.05" text-rendering="geometricPrecision">13 Dec 12:00</text>
<text transform="translate(836.5,848) scale(0.9,1)" font-family="'Liberation Sans', Arial, sans-serif" font-size="10.2" fill="#000" font-weight="normal" text-anchor="start" stroke="#000" stroke-width="0.05" text-rendering="geometricPrecision">14 Dec 04:00</text>
<text transform="translate(900.5,848) scale(0.9,1)" font-family="'Liberation Sans', Arial, sans-serif" font-size="10.2" fill="#000" font-weight="normal" text-anchor="start" stroke="#000" stroke-width="0.05" text-rendering="geometricPrecision">14 Dec 20:00</text>
<text transform="translate(964.5,848) scale(0.9,1)" font-family="'Liberation Sans', Arial, sans-serif" font-size="10.2" fill="#000" font-weight="normal" text-anchor="start" stroke="#000" stroke-width="0.05" text-rendering="geometricPrecision">15 Dec 12:00</text>
<text transform="translate(1028.5,848) scale(0.9,1)" font-family="'Liberation Sans', Arial, sans-serif" font-size="10.2" fill="#000" font-weight="normal" text-anchor="start" stroke="#000" stroke-width="0.05" text-rendering="geometricPrecision">16 Dec 04:00</text>
<text transform="translate(1092.5,848) scale(0.9,1)" font-family="'Liberation Sans', Arial, sans-serif" font-size="10.2" fill="#000" font-weight="normal" text-anchor="start" stroke="#000" stroke-width="0.05" text-rendering="geometricPrecision">18 Dec 23:00</text>
<text transform="translate(1156.5,848) scale(0.9,1)" font-family="'Liberation Sans', Arial, sans-serif" font-size="10.2" fill="#000" font-weight="normal" text-anchor="start" stroke="#000" stroke-width="0.05" text-rendering="geometricPrecision">19 Dec 12:00</text>
<text transform="translate(1220.5,848) scale(0.9,1)" font-family="'Liberation Sans', Arial, sans-serif" font-size="10.2" fill="#000" font-weight="normal" text-anchor="start" stroke="#000" stroke-width="0.05" text-rendering="geometricPrecision">20 Dec 04:00</text>
<text transform="translate(1284.5,848) scale(0.9,1)" font-family="'Liberation Sans', Arial, sans-serif" font-size="10.2" fill="#000" font-weight="normal" text-anchor="start" stroke="#000" stroke-width="0.05" text-rendering="geometricPrecision">20 Dec 20:00</text>
<defs><pattern id="chk" width="2" height="2" patternUnits="userSpaceOnUse"><rect width="2" height="2" fill="#f7f7f7"/><rect width="1" height="1" fill="#e6e6e6"/><rect x="1" y="1" width="1" height="1" fill="#e6e6e6"/></pattern><linearGradient id="gold" x1="0" y1="0" x2="1" y2="1"><stop offset="0" stop-color="#fff2a0"/><stop offset="0.5" stop-color="#e8b820"/><stop offset="1" stop-color="#b07010"/></linearGradient><linearGradient id="gplus" x1="0" y1="0" x2="1" y2="1"><stop offset="0" stop-color="#a0ffa0"/><stop offset="1" stop-color="#00dd00"/></linearGradient><radialGradient id="redc" cx="0.45" cy="0.35" r="0.7"><stop offset="0" stop-color="#f05a3a"/><stop offset="1" stop-color="#cc1a08"/></radialGradient><linearGradient id="blueg" x1="0" y1="0" x2="0" y2="1"><stop offset="0" stop-color="#8ccff5"/><stop offset="1" stop-color="#4aa2dc"/></linearGradient></defs>
<rect x="2" y="0" width="1" height="18" fill="#a0a0a0"/>
<rect x="3" y="0" width="1" height="18" fill="#ffffff"/>
<g shape-rendering="crispEdges"><path d="M12.5,1.5 Q12.5,0.5 13.5,0.5 H20 L23.5,4 V12.5 Q23.5,13.5 22.5,13.5 H13.5 Q12.5,13.5 12.5,12.5 Z" fill="#ffffff" stroke="#7a7a7a" stroke-width="1"/><path d="M20,0.5 V4 H23.5 Z" fill="#5a5a5a"/><rect x="21" y="1.6" width="1" height="1" fill="#ffffff"/><rect x="14" y="2" width="3" height="2" fill="#8a8a8a"/><rect x="14" y="6" width="6" height="1" fill="#8a8a8a"/><rect x="14" y="8" width="5" height="1" fill="#8a8a8a"/><rect x="14" y="10" width="4" height="1" fill="#8a8a8a"/><path d="M20,6 h4 v4 h4 v4 h-4 v4 h-4 v-4 h-4 v-4 h4 Z" fill="#0a9a1a"/><path d="M21,7 h2 v4 h4 v2 h-4 v4 h-2 v-4 h-4 v-2 h4 Z" fill="url(#gplus)"/></g>
<text transform="translate(31,12) scale(1.02,1)" font-family="'Liberation Sans', 'Noto Sans CJK SC', 'WenQuanYi Zen Hei', sans-serif" font-size="12" fill="#000" font-weight="normal" text-anchor="start" stroke="#000" stroke-width="0.25">新订单</text>
<path d="M79.5,10 L84.5,1.8 Q85.5,1 87,2 L94,7.5 Q95.5,9.5 94.5,11 L88.5,15.8 Q86.8,16.5 85.5,15.2 Z" fill="url(#gold)" stroke="#a86a10" stroke-width="1"/><path d="M86,14.5 L93.5,9" stroke="#fff0c0" stroke-width="1"/><path d="M80.5,10 L85.5,14.5" stroke="#fff6d0" stroke-width="0.8"/>
<rect x="109" y="0" width="11" height="10" fill="#1aa0fa"/><rect x="109" y="0" width="11" height="1" fill="#6a78d8"/><rect x="109" y="1" width="3" height="9" fill="#0a8ae8"/><rect x="112" y="1" width="1" height="9" fill="#d8f0ff"/><rect x="114" y="5" width="5" height="1.5" fill="#e8f6ff"/><defs><linearGradient id="cld" x1="0" y1="0" x2="0" y2="1"><stop offset="0" stop-color="#ffffff"/><stop offset="1" stop-color="#b8c2da"/></linearGradient></defs><path d="M108.5,15.5 Q106,15.3 106.3,13.2 Q106.8,11 109.3,11.2 Q109.8,9.2 111.8,9.6 Q113,7.6 115.2,8.4 Q116.2,9.2 116.5,10.2 Q117.5,8.8 119.5,9.6 Q121.2,10.4 120.8,11.8 Q123.2,12.2 122.8,14.2 Q122.4,15.5 120.8,15.5 Z" fill="url(#cld)" stroke="#4a5a92" stroke-width="1"/>
<defs><linearGradient id="rdr" x1="0" y1="0" x2="1" y2="0.3"><stop offset="0" stop-color="#2a5ad0"/><stop offset="0.5" stop-color="#a8c0e0"/><stop offset="1" stop-color="#3a9a4a"/></linearGradient><radialGradient id="swp" cx="0" cy="0" r="1"><stop offset="0" stop-color="#9ad89a"/><stop offset="1" stop-color="#2a9a2a"/></radialGradient></defs><path d="M143.5,8 L143.5,15.6 A7.6,7.6 0 0 0 150.8,10 Z" fill="#a8dca0" opacity="0.8"/><g fill="none" stroke="url(#rdr)" stroke-width="1.3"><circle cx="143" cy="8" r="7.4"/><circle cx="143" cy="8" r="4.6"/></g><path d="M143.5,15.6 A7.6,7.6 0 0 0 150.8,10" fill="none" stroke="#2a9a2a" stroke-width="1.3"/><circle cx="143" cy="7.6" r="1.7" fill="#1a4ad0"/><rect x="143" y="8" width="1.2" height="8" fill="#18a018"/>
<path d="M163,8 L170,16 L177,13 L178,6 Z" fill="#f5dc60" stroke="#c8a020" stroke-width="1"/><ellipse cx="170" cy="5" rx="7.5" ry="2.8" fill="url(#blueg)" stroke="#2a82a8" stroke-width="1"/><ellipse cx="169.5" cy="2.5" rx="3.2" ry="2.3" fill="#7cc4ee" stroke="#2a82a8" stroke-width="1"/><circle cx="174.5" cy="12" r="3.8" fill="#d8200a"/><rect x="173" y="10.5" width="3" height="3" fill="#ffffff"/>
<text transform="translate(183.5,12) scale(0.99,1)" font-family="'Liberation Sans', 'Noto Sans CJK SC', 'WenQuanYi Zen Hei', sans-serif" font-size="12" fill="#000" font-weight="normal" text-anchor="start" stroke="#000" stroke-width="0.25">自动交易</text>
<rect x="238" y="0" width="1" height="20" fill="#a0a0a0"/>
<rect x="239" y="0" width="1" height="20" fill="#ffffff"/>
<rect x="242" y="0" width="3" height="1" fill="#8f8f8f"/>
<rect x="242" y="2" width="3" height="1" fill="#8f8f8f"/>
<rect x="242" y="4" width="3" height="1" fill="#8f8f8f"/>
<rect x="242" y="6" width="3" height="1" fill="#8f8f8f"/>
<rect x="242" y="8" width="3" height="1" fill="#8f8f8f"/>
<rect x="242" y="10" width="3" height="1" fill="#8f8f8f"/>
<rect x="242" y="12" width="3" height="1" fill="#8f8f8f"/>
<rect x="242" y="14" width="3" height="1" fill="#8f8f8f"/>
<rect x="242" y="16" width="3" height="1" fill="#8f8f8f"/>
<g fill="#555" shape-rendering="crispEdges"><rect x="256" y="3" width="1" height="13"/><rect x="254" y="13" width="13" height="1"/><rect x="255" y="3" width="3" height="1"/><rect x="256" y="2" width="1" height="1"/><rect x="267" y="12" width="1" height="3"/><rect x="268" y="13" width="1" height="1"/></g>
<g fill="#1a9a1a" shape-rendering="crispEdges"><rect x="262" y="3" width="1" height="9"/><rect x="263" y="4" width="2" height="1"/><rect x="260" y="10" width="2" height="1"/></g>
<rect x="276" y="0" width="1" height="18" fill="#a0a0a0"/>
<rect x="277" y="0" width="1" height="18" fill="#ffffff"/>
<rect x="278" y="0" width="23" height="18" fill="url(#chk)"/>
<g fill="#555" shape-rendering="crispEdges"><rect x="284" y="3" width="1" height="13"/><rect x="282" y="13" width="12" height="1"/><rect x="283" y="3" width="3" height="1"/><rect x="284" y="2" width="1" height="1"/><rect x="294" y="12" width="1" height="3"/><rect x="295" y="13" width="1" height="1"/></g>
<g shape-rendering="crispEdges"><rect x="290" y="0" width="1" height="12" fill="#1a8a1a"/><rect x="288" y="2" width="5" height="8" fill="#1a8a1a"/><rect x="289" y="3" width="3" height="6" fill="#40e040"/></g>
<g fill="#555" shape-rendering="crispEdges"><rect x="312" y="3" width="1" height="13"/><rect x="310" y="13" width="12" height="1"/><rect x="311" y="3" width="3" height="1"/><rect x="312" y="2" width="1" height="1"/><rect x="322" y="12" width="1" height="3"/><rect x="323" y="13" width="1" height="1"/></g>
<path d="M311,10.5 Q316,3 317.5,5 T322,9" fill="none" stroke="#2a9a2a" stroke-width="1"/>
<rect x="333" y="0" width="1" height="18" fill="#a0a0a0"/>
<rect x="334" y="0" width="1" height="18" fill="#ffffff"/>
<line x1="351.5" y1="9.5" x2="357" y2="15" stroke="#c89a10" stroke-width="3"/><line x1="351.5" y1="9.5" x2="357" y2="15" stroke="#f0d860" stroke-width="1.2"/><circle cx="348" cy="6" r="5.5" fill="#e4f2fc" stroke="#2a70c8" stroke-width="1"/>
<rect x="345" y="5" width="6" height="2" fill="#4a80b0"/>
<rect x="347" y="2" width="2" height="8" fill="#4a80b0"/>
<line x1="379.5" y1="9.5" x2="385" y2="15" stroke="#c89a10" stroke-width="3"/><line x1="379.5" y1="9.5" x2="385" y2="15" stroke="#f0d860" stroke-width="1.2"/><circle cx="376" cy="6" r="5.5" fill="#e4f2fc" stroke="#2a70c8" stroke-width="1"/>
<rect x="373" y="5" width="6" height="2" fill="#4a80b0"/>
<rect x="398" y="0" width="8" height="8" fill="#30a020"/><rect x="399" y="3" width="6" height="4" fill="#ffffff"/><rect x="400" y="4" width="4" height="1" fill="#30a020"/>
<rect x="406" y="0" width="8" height="8" fill="#2050d0"/><rect x="407" y="3" width="6" height="4" fill="#ffffff"/><rect x="408" y="4" width="4" height="1" fill="#2050d0"/>
<rect x="398" y="8" width="8" height="8" fill="#2050d0"/><rect x="399" y="11" width="6" height="4" fill="#ffffff"/><rect x="400" y="12" width="4" height="1" fill="#2050d0"/>
<rect x="406" y="8" width="8" height="8" fill="#30a020"/><rect x="407" y="11" width="6" height="4" fill="#ffffff"/><rect x="408" y="12" width="4" height="1" fill="#30a020"/>
<rect x="423" y="0" width="1" height="18" fill="#a0a0a0"/>
<rect x="424" y="0" width="1" height="18" fill="#ffffff"/>
<rect x="428" y="0" width="1" height="18" fill="#a0a0a0"/>
<rect x="429" y="0" width="1" height="18" fill="#ffffff"/>
<rect x="430" y="0" width="23" height="18" fill="url(#chk)"/>
<g fill="#555" shape-rendering="crispEdges"><rect x="436" y="3" width="1" height="13"/><rect x="434" y="13" width="12" height="1"/><rect x="435" y="3" width="3" height="1"/><rect x="436" y="2" width="1" height="1"/><rect x="446" y="12" width="1" height="3"/><rect x="447" y="13" width="1" height="1"/></g>
<polygon points="441,4 445,7.5 441,11" fill="#3ac83a" stroke="#1a8a1a" stroke-width="1"/>
<rect x="456" y="0" width="1" height="18" fill="#a0a0a0"/>
<rect x="457" y="0" width="1" height="18" fill="#ffffff"/>
<rect x="458" y="0" width="24" height="18" fill="url(#chk)"/>
<g fill="#555" shape-rendering="crispEdges"><rect x="464" y="3" width="1" height="13"/><rect x="462" y="13" width="12" height="1"/><rect x="463" y="3" width="3" height="1"/><rect x="464" y="2" width="1" height="1"/><rect x="474" y="12" width="1" height="3"/><rect x="475" y="13" width="1" height="1"/></g>
<rect x="470" y="2" width="1" height="10" fill="#1a6ab0"/><polygon points="471,7.5 475,5 475,10" fill="#e0500a"/><rect x="474" y="7" width="3" height="1" fill="#e0500a"/>
<rect x="485" y="0" width="1" height="18" fill="#a0a0a0"/>
<rect x="486" y="0" width="1" height="18" fill="#ffffff"/>
<g shape-rendering="crispEdges"><path d="M495.5,1.5 Q495.5,0.5 496.5,0.5 H503 L506.5,4 V12.5 Q506.5,13.5 505.5,13.5 H496.5 Q495.5,13.5 495.5,12.5 Z" fill="#ffffff" stroke="#8a8a8a" stroke-width="1"/><path d="M503,0.5 V4 H506.5 Z" fill="#5a5a5a"/><rect x="504" y="1.6" width="1" height="1" fill="#ffffff"/><path d="M500.5,3 Q498.8,3 498.8,4.8 V6 Q498.8,7 497.8,7.2 Q498.8,7.4 498.8,8.4 V9.6 Q498.8,11 500.5,11" fill="none" stroke="#4a3a1a" stroke-width="0.9"/><path d="M503,6 h4 v4 h4 v4 h-4 v4 h-4 v-4 h-4 v-4 h4 Z" fill="#0a9a1a"/><path d="M504,7 h2 v4 h4 v2 h-4 v4 h-2 v-4 h-4 v-2 h4 Z" fill="url(#gplus)"/></g>
<polygon points="517,7 522,7 519.5,10" fill="#000"/>
<defs><linearGradient id="clk" x1="0.2" y1="0.1" x2="0.8" y2="0.9"><stop offset="0" stop-color="#6ac0f8"/><stop offset="0.5" stop-color="#1a7ad8"/><stop offset="1" stop-color="#0a4a9a"/></linearGradient></defs><rect x="539.5" y="-0.5" width="3" height="2" fill="#1a70c8"/><circle cx="540.8" cy="8.2" r="6.6" fill="#ffffff" stroke="url(#clk)" stroke-width="2.6"/><g fill="#9a9a9a"><rect x="544.70" y="7.80" width="0.8" height="0.8"/><rect x="544.12" y="9.95" width="0.8" height="0.8"/><rect x="542.55" y="11.52" width="0.8" height="0.8"/><rect x="540.40" y="12.10" width="0.8" height="0.8"/><rect x="538.25" y="11.52" width="0.8" height="0.8"/><rect x="536.68" y="9.95" width="0.8" height="0.8"/><rect x="536.10" y="7.80" width="0.8" height="0.8"/><rect x="536.68" y="5.65" width="0.8" height="0.8"/><rect x="538.25" y="4.08" width="0.8" height="0.8"/><rect x="540.40" y="3.50" width="0.8" height="0.8"/><rect x="542.55" y="4.08" width="0.8" height="0.8"/><rect x="544.12" y="5.65" width="0.8" height="0.8"/></g><path d="M539.8,4.3 L540.8,8.2 L543.8,7.6" fill="none" stroke="#1a1a1a" stroke-width="1.1"/><rect x="540" y="11.6" width="2" height="0.8" fill="#5aa0e0"/>
<polygon points="556,7 561,7 558.5,10" fill="#000"/>
<rect x="572.5" y="1.5" width="15" height="13" fill="#ffffff" stroke="#2a6ad0" stroke-width="1"/><rect x="573" y="2" width="14" height="2" fill="#4a8ae0"/><rect x="573" y="9" width="14" height="1" fill="#2a6ad0"/><polyline points="574,7.5 577,7 579,5.5 581,6.5 583,6 586,5.5" fill="none" stroke="#a01a0a" stroke-width="1"/><polyline points="575,12.5 577,12 579,11.5 581,12 583,10 586,12.5" fill="none" stroke="#1a9a1a" stroke-width="1"/>
<polygon points="595,7 600,7 597.5,10" fill="#000"/>
<rect x="606" y="0" width="1" height="20" fill="#a0a0a0"/>
<rect x="607" y="0" width="1" height="20" fill="#ffffff"/>
<rect x="610" y="0" width="3" height="1" fill="#8f8f8f"/>
<rect x="610" y="2" width="3" height="1" fill="#8f8f8f"/>
<rect x="610" y="4" width="3" height="1" fill="#8f8f8f"/>
<rect x="610" y="6" width="3" height="1" fill="#8f8f8f"/>
<rect x="610" y="8" width="3" height="1" fill="#8f8f8f"/>
<rect x="610" y="10" width="3" height="1" fill="#8f8f8f"/>
<rect x="610" y="12" width="3" height="1" fill="#8f8f8f"/>
<rect x="610" y="14" width="3" height="1" fill="#8f8f8f"/>
<rect x="610" y="16" width="3" height="1" fill="#8f8f8f"/>
<rect x="616" y="0" width="1" height="18" fill="#a0a0a0"/>
<rect x="617" y="0" width="1" height="18" fill="#ffffff"/>
<rect x="618" y="0" width="24" height="18" fill="url(#chk)"/>
<polygon points="624,1 624,11.5 626.5,9.5 629,14.5 631,13.5 628.5,8.5 632,8" fill="#4a4a4a"/>
<g fill="#4a4a4a" shape-rendering="crispEdges"><rect x="649" y="8" width="6" height="1"/><rect x="658" y="8" width="6" height="1"/><rect x="656" y="1" width="1" height="6" fill="#4a4a4a"/><rect x="656" y="10" width="1" height="6"/></g>
<rect x="673" y="0" width="1" height="18" fill="#a0a0a0"/>
<rect x="674" y="0" width="1" height="18" fill="#ffffff"/>
<g fill="#4a4a4a" shape-rendering="crispEdges"><rect x="690" y="2" width="1" height="13"/><rect x="713" y="8" width="12" height="1"/></g>
<line x1="741" y1="14.5" x2="753" y2="2.5" stroke="#3a3a3a" stroke-width="1.3"/>
<g stroke="#4a4a4a" stroke-width="1" fill="none"><line x1="767" y1="10" x2="775" y2="2"/><line x1="769" y1="13" x2="779" y2="4"/><line x1="772" y1="15" x2="780" y2="7"/><line x1="770" y1="8" x2="770" y2="14"/><line x1="773" y1="7" x2="773" y2="12"/><line x1="779" y1="0" x2="779" y2="6"/></g>
<text transform="translate(778,17) scale(1,1)" font-family="'Liberation Sans', Arial, sans-serif" font-size="7" fill="#3a3a3a" font-weight="bold" text-anchor="start" stroke="#3a3a3a" stroke-width="0.05" text-rendering="geometricPrecision">E</text>
<g fill="#4a4a4a" shape-rendering="crispEdges"><rect x="796" y="1" width="1" height="1"/><rect x="798" y="1" width="1" height="1"/><rect x="800" y="1" width="1" height="1"/><rect x="802" y="1" width="1" height="1"/><rect x="804" y="1" width="1" height="1"/><rect x="806" y="1" width="1" height="1"/><rect x="808" y="1" width="1" height="1"/><rect x="796" y="4" width="1" height="1"/><rect x="798" y="4" width="1" height="1"/><rect x="800" y="4" width="1" height="1"/><rect x="802" y="4" width="1" height="1"/><rect x="804" y="4" width="1" height="1"/><rect x="806" y="4" width="1" height="1"/><rect x="808" y="4" width="1" height="1"/><rect x="796" y="8" width="1" height="1"/><rect x="798" y="8" width="1" height="1"/><rect x="800" y="8" width="1" height="1"/><rect x="802" y="8" width="1" height="1"/><rect x="804" y="8" width="1" height="1"/><rect x="806" y="8" width="1" height="1"/><rect x="808" y="8" width="1" height="1"/><rect x="796" y="12" width="1" height="1"/><rect x="798" y="12" width="1" height="1"/><rect x="800" y="12" width="1" height="1"/><rect x="802" y="12" width="1" height="1"/><rect x="804" y="12" width="1" height="1"/></g>
<text transform="translate(805.5,17) scale(1,1)" font-family="'Liberation Sans', Arial, sans-serif" font-size="7" fill="#3a3a3a" font-weight="bold" text-anchor="start" stroke="#3a3a3a" stroke-width="0.05" text-rendering="geometricPrecision">F</text>
<text transform="translate(826.5,13) scale(1,1)" font-family="'Liberation Sans', Arial, sans-serif" font-size="12" fill="#4a4a4a" font-weight="normal" text-anchor="start" stroke="#4a4a4a" stroke-width="0.05" text-rendering="geometricPrecision">A</text>
<g fill="#4a4a4a" shape-rendering="crispEdges"><rect x="853" y="2" width="1" height="1"/><rect x="853" y="14" width="1" height="1"/><rect x="855" y="2" width="1" height="1"/><rect x="855" y="14" width="1" height="1"/><rect x="857" y="2" width="1" height="1"/><rect x="857" y="14" width="1" height="1"/><rect x="859" y="2" width="1" height="1"/><rect x="859" y="14" width="1" height="1"/><rect x="861" y="2" width="1" height="1"/><rect x="861" y="14" width="1" height="1"/><rect x="863" y="2" width="1" height="1"/><rect x="863" y="14" width="1" height="1"/><rect x="865" y="2" width="1" height="1"/><rect x="865" y="14" width="1" height="1"/><rect x="853" y="4" width="1" height="1"/><rect x="864" y="4" width="1" height="1"/><rect x="853" y="6" width="1" height="1"/><rect x="864" y="6" width="1" height="1"/><rect x="853" y="8" width="1" height="1"/><rect x="864" y="8" width="1" height="1"/><rect x="853" y="10" width="1" height="1"/><rect x="864" y="10" width="1" height="1"/><rect x="853" y="12" width="1" height="1"/><rect x="864" y="12" width="1" height="1"/><rect x="855" y="5" width="8" height="1"/><rect x="858" y="5" width="2" height="8"/></g>
<polygon points="880,5 883.5,1.5 887,5" fill="#4a4a4a"/><polygon points="887,11 890.5,15 894,11" fill="#4a4a4a"/><polyline points="882.5,9 884.5,11 889,6" fill="none" stroke="#4a4a4a" stroke-width="1.3"/>
<polygon points="901,7 906,7 903.5,10" fill="#000"/>
<rect x="912" y="0" width="1" height="20" fill="#a0a0a0"/>
<rect x="913" y="0" width="1" height="20" fill="#ffffff"/>
<rect x="916" y="0" width="3" height="1" fill="#8f8f8f"/>
<rect x="916" y="2" width="3" height="1" fill="#8f8f8f"/>
<rect x="916" y="4" width="3" height="1" fill="#8f8f8f"/>
<rect x="916" y="6" width="3" height="1" fill="#8f8f8f"/>
<rect x="916" y="8" width="3" height="1" fill="#8f8f8f"/>
<rect x="916" y="10" width="3" height="1" fill="#8f8f8f"/>
<rect x="916" y="12" width="3" height="1" fill="#8f8f8f"/>
<rect x="916" y="14" width="3" height="1" fill="#8f8f8f"/>
<rect x="916" y="16" width="3" height="1" fill="#8f8f8f"/>
<rect x="1062" y="0" width="1" height="18" fill="#a0a0a0"/>
<rect x="1063" y="0" width="1" height="18" fill="#ffffff"/>
<rect x="1063" y="0" width="25" height="18" fill="url(#chk)"/>
<text transform="translate(927.5,12) scale(0.95,1)" font-family="'Liberation Sans', Arial, sans-serif" font-size="10" fill="#3a3a3a" font-weight="normal" text-anchor="start" stroke="#3a3a3a" stroke-width="0.05" text-rendering="geometricPrecision">M1</text>
<text transform="translate(955.5,12) scale(0.95,1)" font-family="'Liberation Sans', Arial, sans-serif" font-size="10" fill="#3a3a3a" font-weight="normal" text-anchor="start" stroke="#3a3a3a" stroke-width="0.05" text-rendering="geometricPrecision">M5</text>
<text transform="translate(981.5,12) scale(0.95,1)" font-family="'Liberation Sans', Arial, sans-serif" font-size="10" fill="#3a3a3a" font-weight="normal" text-anchor="start" stroke="#3a3a3a" stroke-width="0.05" text-rendering="geometricPrecision">M15</text>
<text transform="translate(1009.5,12) scale(0.95,1)" font-family="'Liberation Sans', Arial, sans-serif" font-size="10" fill="#3a3a3a" font-weight="normal" text-anchor="start" stroke="#3a3a3a" stroke-width="0.05" text-rendering="geometricPrecision">M30</text>
<text transform="translate(1040.5,12) scale(0.95,1)" font-family="'Liberation Sans', Arial, sans-serif" font-size="10" fill="#3a3a3a" font-weight="normal" text-anchor="start" stroke="#3a3a3a" stroke-width="0.05" text-rendering="geometricPrecision">H1</text>
<text transform="translate(1067.5,12) scale(0.95,1)" font-family="'Liberation Sans', Arial, sans-serif" font-size="10" fill="#3a3a3a" font-weight="normal" text-anchor="start" stroke="#3a3a3a" stroke-width="0.05" text-rendering="geometricPrecision">H4</text>
<text transform="translate(1096.5,12) scale(0.95,1)" font-family="'Liberation Sans', Arial, sans-serif" font-size="10" fill="#3a3a3a" font-weight="normal" text-anchor="start" stroke="#3a3a3a" stroke-width="0.05" text-rendering="geometricPrecision">D1</text>
<text transform="translate(1123.5,12) scale(0.95,1)" font-family="'Liberation Sans', Arial, sans-serif" font-size="10" fill="#3a3a3a" font-weight="normal" text-anchor="start" stroke="#3a3a3a" stroke-width="0.05" text-rendering="geometricPrecision">W1</text>
<text transform="translate(1150.5,12) scale(0.95,1)" font-family="'Liberation Sans', Arial, sans-serif" font-size="10" fill="#3a3a3a" font-weight="normal" text-anchor="start" stroke="#3a3a3a" stroke-width="0.05" text-rendering="geometricPrecision">MN</text>
<rect x="1173" y="0" width="1" height="20" fill="#a0a0a0"/>
<rect x="1174" y="0" width="1" height="20" fill="#ffffff"/>
<line x1="1640" y1="9" x2="1636.5" y2="12.5" stroke="#2a5ad0" stroke-width="2.4" stroke-linecap="round"/><circle cx="1643.5" cy="5.3" r="3.6" fill="#f4f6ff" stroke="#2a5ad0" stroke-width="1.4"/>
<ellipse cx="1665" cy="10" rx="5.5" ry="4.5" fill="#e2e4ec" stroke="#b0b0b0" stroke-width="1"/><polygon points="1663,13 1664,17 1667,14" fill="#a0a0a0"/><circle cx="1674.3" cy="5.8" r="8" fill="url(#redc)"/>
<text x="1674.3" y="10.5" font-family="'Liberation Serif', serif" font-size="12.5" font-weight="bold" fill="#ffffff" text-anchor="middle">1</text>
</svg>
</body></html>
